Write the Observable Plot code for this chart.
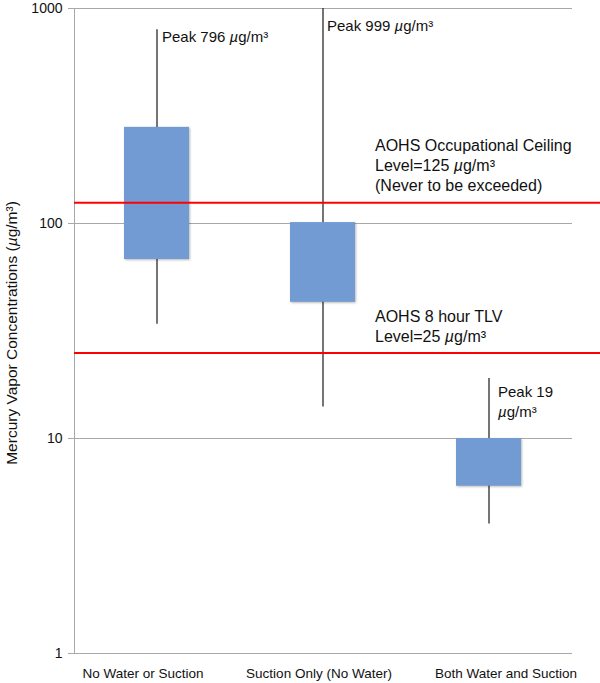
<!DOCTYPE html>
<html><head><meta charset="utf-8">
<script src="https://cdn.jsdelivr.net/npm/d3@7"></script>
<script src="https://cdn.jsdelivr.net/npm/@observablehq/plot@0.6"></script>
<style>body{margin:0;background:#fff;} svg{display:block}</style>
</head><body><div id="chart"></div>
<script>
// ---- data ----
const categories = ["No Water or Suction", "Suction Only (No Water)", "Both Water and Suction"];
const whiskerLow  = [34, 14, 4];
const boxLow      = [68, 43, 6];
const boxHigh     = [280, 101, 10];
const whiskerHigh = [796, 999, 19];
const yTicks = [1, 10, 100, 1000];
const limitValues = [125, 25];
const limitText = [
  "AOHS Occupational Ceiling\nLevel=125 µg/m³\n(Never to be exceeded)",
  "AOHS 8 hour TLV\nLevel=25 µg/m³"
];
const peakValues = [796, 999, 19];
const peakText = ["Peak 796 µg/m³", "Peak 999 µg/m³", "Peak 19\nµg/m³"];
const yLabel = "Mercury Vapor Concentrations (µg/m³)";

// ---- layout tweaks (styles only) ----
const catLabelDx = [-14, -4, 17];
const peakDx = [5, 4, 9];
const peakDy = [-2, 8, 4];
const limitDy = [-12, -11];

const rows = categories.map((c, i) => ({cat: c, wl: whiskerLow[i], bl: boxLow[i], bh: boxHigh[i], wh: whiskerHigh[i]}));

const font = "'Liberation Sans', Arial, Helvetica, sans-serif";

const chart = Plot.plot({
  width: 600, height: 683,
  marginLeft: 74, marginRight: 28, marginTop: 8, marginBottom: 30,
  style: {fontFamily: font, fontSize: "14px", color: "#111", background: "#fff"},
  x: {domain: categories, paddingInner: 0.608, paddingOuter: 0.304},
  y: {type: "log", domain: [1, 1000]},
  marks: [
    Plot.gridY(yTicks, {stroke: "#a8a8a8", strokeOpacity: 1, strokeWidth: 1}),
    Plot.axisY(yTicks, {tickSize: 6, tickPadding: 6, tickFormat: d3.format("d"), stroke: "#a8a8a8", fill: "#111", fontSize: 14, label: null}),
    Plot.frame({anchor: "left", stroke: "#a8a8a8"}),
    ...categories.map((c, i) => Plot.axisX([c], {tickSize: 0, tickPadding: 15, dx: catLabelDx[i], fontSize: 13.5, fill: "#111", label: null})),
    Plot.ruleX(rows, {x: "cat", y1: "wl", y2: "wh", stroke: "#2a2a2a", strokeWidth: 1.3}),
    Plot.barY(rows, {x: "cat", y1: "bl", y2: "bh", fill: "#729bd4"}),
    Plot.ruleY(limitValues, {y: d => d, stroke: "#ff0000", strokeWidth: 2, insetRight: -28}),
    ...peakValues.map((v, i) => Plot.text([peakText[i]], {
      x: () => categories[i], y: () => v, text: d => d,
      textAnchor: "start", lineAnchor: "top", dx: peakDx[i], dy: peakDy[i],
      fontSize: 15, lineHeight: 1.33, fill: "#111"
    })),
    ...limitValues.map((v, i) => Plot.text([limitText[i]], {
      x: () => categories[1], y: () => v, text: d => d,
      textAnchor: "start", lineAnchor: "bottom", dx: 52, dy: limitDy[i],
      fontSize: 16, lineHeight: 1.25, fill: "#111"
    })),
    Plot.text([yLabel], {frameAnchor: "left", textAnchor: "middle", rotate: -90, dx: -62, dy: 2, text: d => d, fontSize: 15.5, fill: "#111"})
  ]
});

// italic mu, like the reference
const walker = document.createTreeWalker(chart, NodeFilter.SHOW_TEXT);
const nodes = [];
while (walker.nextNode()) if (walker.currentNode.data.includes("µ")) nodes.push(walker.currentNode);
for (const node of nodes) {
  const parts = node.data.split("µ");
  const frag = document.createDocumentFragment();
  parts.forEach((p, k) => {
    if (k > 0) {
      const t = document.createElementNS("http://www.w3.org/2000/svg", "tspan");
      t.setAttribute("font-style", "italic");
      t.textContent = "µ";
      frag.appendChild(t);
    }
    if (p) frag.appendChild(document.createTextNode(p));
  });
  node.parentNode.replaceChild(frag, node);
}
d3.select(chart).selectAll('g[aria-label="bar"]').style("filter", "drop-shadow(1px 1.5px 1px rgba(0,0,0,0.28))");

document.getElementById("chart").appendChild(chart);
</script>
</body></html>
